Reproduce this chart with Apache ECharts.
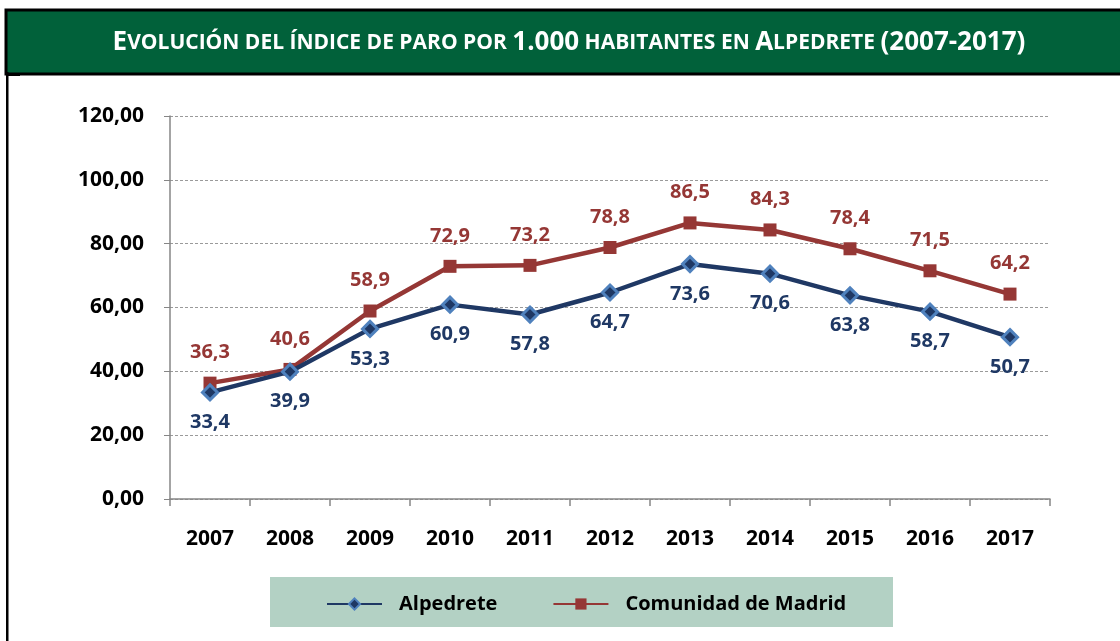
<!DOCTYPE html>
<html>
<head>
<meta charset="utf-8">
<script src="https://cdn.jsdelivr.net/npm/echarts@6/dist/echarts.min.js"></script>
<style>
html,body{margin:0;padding:0;background:#fff;}
#main{width:1120px;height:641px;}
</style>
</head>
<body>
<div id="main"></div>
<script>
var years = ['2007','2008','2009','2010','2011','2012','2013','2014','2015','2016','2017'];
var alpedrete = [33.4, 39.9, 53.3, 60.9, 57.8, 64.7, 73.6, 70.6, 63.8, 58.7, 50.7];
var madrid = [36.3, 40.6, 58.9, 72.9, 73.2, 78.8, 86.5, 84.3, 78.4, 71.5, 64.2];

var FONT = 'Open Sans';
var chart = echarts.init(document.getElementById('main'));

function comma(v, d) {
	return Number(v).toFixed(d).replace('.', ',');
}

var option = {
	backgroundColor: '#ffffff',
	textStyle: {fontFamily: FONT},
	animation: false,
	title: {
		text: '{b|E}{s|VOLUCIÓN DEL ÍNDICE DE PARO POR }{b|1.000}{s| HABITANTES EN }{b|A}{s|LPEDRETE }{b|(2007-2017)}',
		left: 564,
		top: 38,
		textAlign: 'center',
		textVerticalAlign: 'middle',
		textStyle: {
			rich: {
				b: {fontFamily: FONT, fontWeight: 'bold', fontSize: 26, color: '#ffffff'},
				s: {fontFamily: FONT, fontWeight: 'bold', fontSize: 21, color: '#ffffff'}
			}
		}
	},
	graphic: [
		// header band
		{type: 'rect', z: -1, shape: {x: 6, y: 10, width: 1120, height: 64},
			style: {fill: '#01613a', stroke: '#000', lineWidth: 3}},
		// left border
		{type: 'rect', z: -1, shape: {x: 6, y: 72, width: 2.5, height: 580}, style: {fill: '#000'}},
		{type: 'rect', z: -1, shape: {x: 6, y: 74, width: 14, height: 2}, style: {fill: '#000'}},
		// legend box
		{type: 'rect', z: -1, shape: {x: 270, y: 577, width: 623, height: 50}, style: {fill: '#b3d1c4'}}
	],
	grid: {left: 170, right: 70, top: 116, bottom: 142},
	legend: {
		left: 321,
		top: 589,
		itemWidth: 55,
		itemHeight: 14,
		itemGap: 55,
		textStyle: {fontFamily: FONT, fontWeight: 'bold', fontSize: 20, color: '#000', padding: [0, 0, 0, 12]},
		data: ['Alpedrete', 'Comunidad de Madrid']
	},
	xAxis: {
		type: 'category',
		data: years,
		boundaryGap: true,
		axisLine: {lineStyle: {color: '#868686', width: 1.5}},
		axisTick: {show: true, length: 7, lineStyle: {color: '#868686', width: 1.5}},
		axisLabel: {fontFamily: FONT, fontWeight: 'bold', fontSize: 21, color: '#000', margin: 30}
	},
	yAxis: {
		type: 'value',
		min: 0,
		max: 120,
		interval: 20,
		axisLine: {show: true, lineStyle: {color: '#868686', width: 1.5}},
		axisTick: {show: true, length: 6, lineStyle: {color: '#868686'}},
		splitLine: {lineStyle: {color: '#9a9a9a', type: [3, 2], width: 1}},
		axisLabel: {
			fontFamily: FONT, fontWeight: 'bold', fontSize: 21, color: '#000', margin: 26,
			formatter: function (v) { return comma(v, 2); }
		}
	},
	series: [
		{
			name: 'Alpedrete',
			type: 'line',
			data: alpedrete,
			symbol: 'diamond',
			symbolSize: 15,
			lineStyle: {color: '#1f3864', width: 4.5},
			itemStyle: {color: '#1f3864', borderColor: '#4f81bd', borderWidth: 3},
			label: {
				show: true, position: 'bottom', distance: 11,
				fontFamily: FONT, fontWeight: 'bold', fontSize: 20, color: '#1f3864',
				formatter: function (p) { return comma(p.value, 1); }
			},
			z: 3
		},
		{
			name: 'Comunidad de Madrid',
			type: 'line',
			data: madrid,
			symbol: 'rect',
			symbolSize: 13,
			lineStyle: {color: '#953735', width: 4.5},
			itemStyle: {color: '#953735'},
			label: {
				show: true, position: 'top', distance: 14,
				fontFamily: FONT, fontWeight: 'bold', fontSize: 20, color: '#953735',
				formatter: function (p) { return comma(p.value, 1); }
			},
			z: 2
		}
	]
};
chart.setOption(option);
</script>
</body>
</html>
